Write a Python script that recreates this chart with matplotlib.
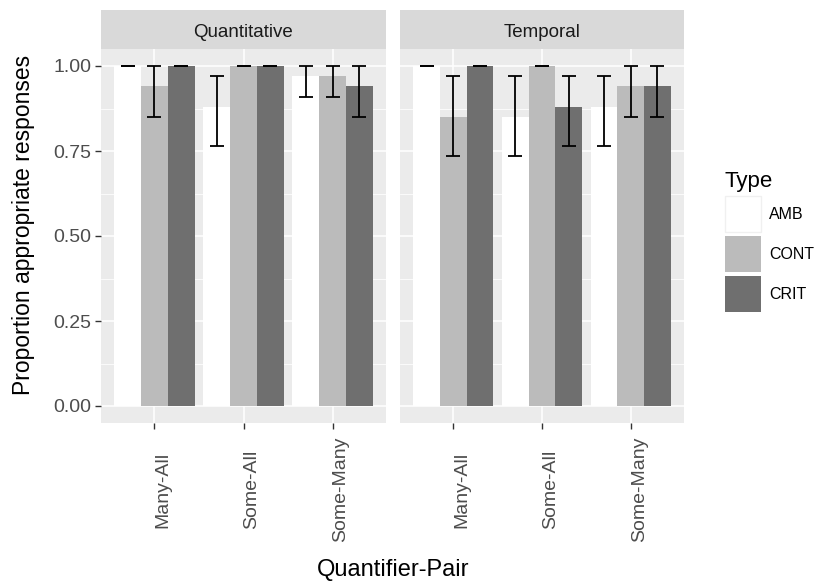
import numpy as np
import matplotlib.pyplot as plt
from matplotlib.patches import Patch

plt.rcParams['font.family'] = ['Liberation Sans', 'DejaVu Sans']

# Datos
pairs = ['Many-All', 'Some-All', 'Some-Many']
facets = ['Quantitative', 'Temporal']
types = ['AMB', 'CONT', 'CRIT']

quant_mean = {'AMB': [1.00, 0.88, 0.97], 'CONT': [0.94, 1.00, 0.97], 'CRIT': [1.00, 1.00, 0.94]}
quant_low = {'AMB': [1.00, 0.765, 0.91], 'CONT': [0.85, 1.00, 0.91], 'CRIT': [1.00, 1.00, 0.85]}
quant_high = {'AMB': [1.00, 0.97, 1.00], 'CONT': [1.00, 1.00, 1.00], 'CRIT': [1.00, 1.00, 1.00]}

temp_mean = {'AMB': [1.00, 0.85, 0.88], 'CONT': [0.85, 1.00, 0.94], 'CRIT': [1.00, 0.88, 0.94]}
temp_low = {'AMB': [1.00, 0.735, 0.765], 'CONT': [0.735, 1.00, 0.85], 'CRIT': [1.00, 0.765, 0.85]}
temp_high = {'AMB': [1.00, 0.97, 0.97], 'CONT': [0.97, 1.00, 1.00], 'CRIT': [1.00, 0.97, 1.00]}

colors = {'AMB': '#FFFFFF', 'CONT': '#BBBBBB', 'CRIT': '#6F6F6F'}
offsets = {'AMB': -0.3, 'CONT': 0.0, 'CRIT': 0.3}

fig = plt.figure(figsize=(8.24, 5.83), dpi=100)
fig.patch.set_facecolor('white')

W, H = 824, 583
panels = [(101, 386), (400, 684)]
top, bottom = 49, 423
strip_top = 10

data = [(quant_mean, quant_low, quant_high), (temp_mean, temp_low, temp_high)]
x = np.arange(len(pairs))

for i, ((l, r), facet, (mean, low, high)) in enumerate(zip(panels, facets, data)):
    ax = fig.add_axes([l / W, 1 - bottom / H, (r - l) / W, (bottom - top) / H])
    ax.set_facecolor('#EBEBEB')
    ax.set_xlim(-0.6, 2.6)
    ax.set_ylim(-0.05, 1.05)
    ax.set_yticks([0, 0.25, 0.5, 0.75, 1.0])
    ax.set_yticks([0.125, 0.375, 0.625, 0.875], minor=True)
    ax.set_xticks(x)
    ax.grid(True, which='major', color='white', linewidth=1.1)
    ax.grid(True, which='minor', axis='y', color='white', linewidth=0.55)
    ax.set_axisbelow(True)
    for s in ax.spines.values():
        s.set_visible(False)

    for t in types:
        ax.bar(x + offsets[t], mean[t], width=0.3, color=colors[t], zorder=2)
        m = np.array(mean[t])
        yerr = [m - np.array(low[t]), np.array(high[t]) - m]
        ax.errorbar(x + offsets[t], m, yerr=yerr, fmt='none', ecolor='black',
                    elinewidth=1.3, capsize=5, capthick=1.3, zorder=3)

    ax.set_xticklabels(pairs, rotation=90, fontsize=14, color='#4D4D4D',
                       ha='left', va='center')
    ax.tick_params(axis='x', which='major', length=4, width=1, color='#333333', pad=44)
    ax.tick_params(axis='y', which='major', length=4, width=1, color='#333333', pad=3)
    ax.tick_params(axis='y', which='minor', length=0)
    if i == 0:
        ax.set_yticklabels(['0.00', '0.25', '0.50', '0.75', '1.00'], fontsize=14, color='#4D4D4D')
    else:
        ax.tick_params(axis='y', which='major', length=0, labelleft=False)

    # franja del facet
    sax = fig.add_axes([l / W, 1 - top / H, (r - l) / W, (top - strip_top) / H])
    sax.set_facecolor('#D9D9D9')
    sax.set_xticks([])
    sax.set_yticks([])
    for s in sax.spines.values():
        s.set_visible(False)
    sax.text(0.5, 0.42, facet, ha='center', va='center', fontsize=13.5, color='#1A1A1A',
             transform=sax.transAxes)

fig.text(24 / W, 1 - 225 / H, 'Proportion appropriate responses', rotation=90,
         ha='center', va='center', fontsize=16.5)
fig.text(393 / W, 1 - 570 / H, 'Quantifier-Pair', ha='center', va='center', fontsize=17)

handles = [Patch(facecolor=colors[t], edgecolor='#F0F0F0' if t == 'AMB' else 'none') for t in types]
leg = fig.legend(handles, types, loc='upper left', bbox_to_anchor=(717 / W, 1 - 163 / H),
                 title='Type', fontsize=11.5, title_fontsize=16, frameon=False, borderpad=0,
                 handlelength=2.25, handleheight=3.09, handletextpad=0.5, labelspacing=0.25,
                 alignment='left')
leg._legend_box.sep = 3

plt.savefig('out.png', dpi=100)
